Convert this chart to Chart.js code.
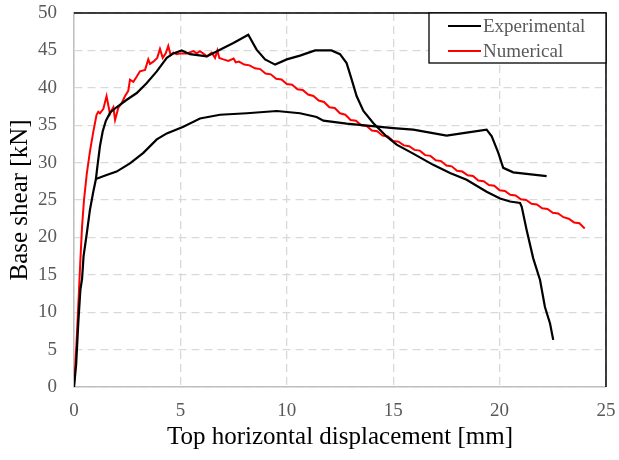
<!DOCTYPE html>
<html>
<head>
<meta charset="utf-8">
<script src="https://cdn.jsdelivr.net/npm/chart.js@4.4.1/dist/chart.umd.min.js"></script>
<style>
  html, body { margin: 0; padding: 0; background: #fff; }
  canvas { display: block; }
</style>
</head>
<body>
<canvas id="myChart" width="619" height="460"></canvas>
<script>
const serif = "'Liberation Serif', 'Times New Roman', serif";

// test 1 - upper branch: [displacement mm, base shear kN]
const expUpper = [
  [0, 0], [0.1, 3], [0.2, 8.5], [0.3, 13], [0.38, 14.5], [0.45, 17.5], [0.6, 20.5],
  [0.75, 23.7], [0.9, 26], [1.03, 27.8], [1.1, 29.5], [1.22, 32.2], [1.35, 34.2],
  [1.5, 35.6], [1.7, 36.7], [2.0, 37.4], [2.48, 38.4], [2.95, 39.3], [3.41, 40.6],
  [3.89, 42.2], [4.36, 44.0], [4.67, 44.6], [5.06, 45.0], [5.45, 44.5], [6.24, 44.2],
  [6.86, 45.1], [7.49, 46.0], [8.19, 47.1], [8.58, 45.1], [8.98, 43.8], [9.45, 43.1],
  [10.0, 43.8], [10.62, 44.3], [11.33, 45.0], [12.1, 45.0], [12.5, 44.5], [12.81, 43.3],
  [13.05, 41.1], [13.28, 38.9], [13.6, 36.9], [14.06, 35.3], [14.69, 33.5], [15.16, 32.4],
  [15.94, 31.2], [16.88, 29.7], [17.67, 28.6], [18.45, 27.7], [19.39, 26.1], [20.02, 25.2],
  [20.49, 24.8], [20.96, 24.6], [21.04, 24.1], [21.27, 21.0], [21.58, 17.2], [21.9, 14.3],
  [22.13, 10.7], [22.37, 8.5], [22.52, 6.3]
];

// test 2 - lower branch, leaves the common loading path at ~1 mm
const expLower = [
  [1.03, 27.8], [1.5, 28.3], [2.0, 28.8], [2.63, 29.9], [3.26, 31.3], [3.89, 33.1],
  [4.36, 33.9], [5.14, 34.8], [5.92, 35.9], [6.86, 36.4], [8.12, 36.6], [9.53, 36.9],
  [10.62, 36.6], [11.4, 36.1], [11.72, 35.6], [12.81, 35.2], [13.91, 34.9], [15.0, 34.6],
  [15.94, 34.4], [16.73, 34.0], [17.51, 33.6], [18.45, 34.0], [19.39, 34.4], [19.63, 33.5],
  [19.94, 31.3], [20.17, 29.3], [20.64, 28.7], [21.58, 28.4], [22.21, 28.2]
];

// FE model response
const numerical = [
  [0, 0], [0.12, 6], [0.22, 12], [0.3, 17], [0.38, 21.5], [0.47, 25], [0.6, 28.5],
  [0.75, 31.5], [0.9, 34], [1.06, 36.4], [1.14, 36.8], [1.22, 36.6], [1.38, 37.2],
  [1.53, 38.9], [1.69, 36.5], [1.77, 37.0], [1.85, 37.4], [1.93, 35.7], [2.08, 37.3],
  [2.25, 38.0], [2.4, 38.9], [2.55, 39.6], [2.63, 41.1], [2.79, 40.8], [2.95, 41.5],
  [3.1, 42.2], [3.34, 42.4], [3.49, 43.8], [3.57, 43.2], [3.73, 43.5], [3.91, 44.0],
  [4.04, 45.2], [4.17, 44.0], [4.31, 44.6], [4.43, 45.6], [4.54, 44.4], [4.67, 44.7],
  [4.83, 44.5], [5.0, 44.6], [5.3, 44.6], [5.61, 44.9], [5.77, 44.6], [5.92, 44.9],
  [6.16, 44.4], [6.24, 44.2], [6.47, 44.7], [6.63, 44.0], [6.74, 45.0], [6.83, 44.0],
  [7.02, 43.8], [7.25, 43.6], [7.5, 43.9], [7.6, 43.4], [7.75, 43.5], [8.0, 43.1],
  [8.25, 43.0], [8.5, 42.6], [8.75, 42.5], [9.0, 41.9], [9.25, 41.8], [9.5, 41.2],
  [9.75, 41.1], [10.0, 40.5], [10.25, 40.4], [10.5, 39.8], [10.75, 39.7], [11.0, 39.1],
  [11.25, 38.9], [11.5, 38.3], [11.75, 38.1], [12.0, 37.4], [12.25, 37.3], [12.5, 36.6],
  [12.75, 36.4], [13.0, 35.7], [13.25, 35.6], [13.5, 35.0], [13.75, 34.9], [14.0, 34.3],
  [14.25, 34.2], [14.5, 33.6], [14.75, 33.5], [15.0, 32.9], [15.25, 32.8], [15.5, 32.3],
  [15.75, 32.2], [16.0, 31.7], [16.25, 31.6], [16.5, 31.0], [16.75, 30.9], [17.0, 30.3],
  [17.25, 30.2], [17.5, 29.6], [17.75, 29.5], [18.0, 28.9], [18.25, 28.8], [18.5, 28.3],
  [18.75, 28.2], [19.0, 27.6], [19.25, 27.5], [19.5, 27.0], [19.75, 26.9], [20.0, 26.3],
  [20.25, 26.2], [20.5, 25.7], [20.75, 25.6], [21.0, 25.1], [21.25, 25.0], [21.5, 24.5],
  [21.75, 24.4], [22.0, 23.9], [22.25, 23.8], [22.5, 23.3], [22.75, 23.2], [23.0, 22.7],
  [23.25, 22.5], [23.5, 22.0], [23.75, 21.9], [24.0, 21.2]
];

const xTicks = [0, 5, 10, 15, 20, 25];
const yTicks = [0, 5, 10, 15, 20, 25, 30, 35, 40, 45, 50];

const toXY = (arr) => arr.map(p => ({ x: p[0], y: p[1] }));

// legend drawn inside the plot, top right, with a frame
const boxLegend = {
  id: 'boxLegend',
  afterDraw(chart) {
    const { ctx, chartArea } = chart;
    const items = chart.data.datasets.filter(d => !d.noLegend);
    const w = 177, h = 50;
    const x0 = chartArea.right - w, y0 = chartArea.top;
    ctx.save();
    ctx.fillStyle = '#fff';
    ctx.fillRect(x0, y0, w, h);
    ctx.strokeStyle = '#000';
    ctx.lineWidth = 1.3;
    ctx.strokeRect(x0, y0, w, h);
    ctx.font = '19px ' + serif;
    ctx.textBaseline = 'middle';
    ctx.fillStyle = '#595959';
    items.forEach((d, i) => {
      const y = y0 + 13 + i * 25;
      ctx.beginPath();
      ctx.strokeStyle = d.borderColor;
      ctx.lineWidth = 2;
      ctx.moveTo(x0 + 19, y);
      ctx.lineTo(x0 + 52, y);
      ctx.stroke();
      ctx.fillText(d.label, x0 + 54, y + 1);
    });
    ctx.restore();
  }
};

// dark frame on the top and right sides of the plot area
const frameLines = {
  id: 'frameLines',
  beforeDatasetsDraw(chart) {
    const { ctx, chartArea: a } = chart;
    ctx.save();
    ctx.strokeStyle = '#000';
    ctx.lineWidth = 1.5;
    ctx.beginPath();
    ctx.moveTo(a.left, a.top);
    ctx.lineTo(a.right, a.top);
    ctx.lineTo(a.right, a.bottom);
    ctx.stroke();
    ctx.restore();
  }
};

const ctx = document.querySelector('#myChart').getContext('2d');

const myChart = new Chart(ctx, {
  type: 'line',
  data: {
    datasets: [
      { label: 'Experimental', data: toXY(expUpper), borderColor: '#000', borderWidth: 2.2 },
      { label: 'Experimental', data: toXY(expLower), borderColor: '#000', borderWidth: 2.2, noLegend: true },
      { label: 'Numerical', data: toXY(numerical), borderColor: '#ff0000', borderWidth: 2 }
    ]
  },
  options: {
    responsive: false,
    animation: false,
    parsing: false,
    elements: {
      point: { radius: 0 },
      line: { tension: 0, fill: false }
    },
    layout: { padding: { top: 13, right: 13, left: 0, bottom: 0 } },
    plugins: {
      legend: { display: false },
      tooltip: { enabled: false }
    },
    scales: {
      x: {
        type: 'linear',
        min: 0,
        max: 25,
        afterBuildTicks: (scale) => { scale.ticks = xTicks.map(v => ({ value: v })); },
        afterFit: (scale) => {
          scale.height = 73;
          scale.paddingLeft = 0;
          scale.paddingRight = 0;
        },
        grid: { color: '#d9d9d9', lineWidth: 1.3, drawTicks: false },
        border: { color: '#bfbfbf', width: 1.5, dash: [8, 5] },
        ticks: { color: '#595959', font: { family: serif, size: 19 }, padding: 13, maxRotation: 0 },
        title: {
          display: true,
          text: 'Top horizontal displacement [mm]',
          color: '#000',
          font: { family: serif, size: 25 },
          padding: { top: 0, bottom: 8 }
        }
      },
      y: {
        type: 'linear',
        min: 0,
        max: 50,
        afterBuildTicks: (scale) => { scale.ticks = yTicks.map(v => ({ value: v })); },
        afterFit: (scale) => {
          scale.width = 74;
          scale.paddingTop = 0;
          scale.paddingBottom = 0;
        },
        grid: { color: '#d9d9d9', lineWidth: 1.3, drawTicks: false },
        border: { color: '#bfbfbf', width: 1.5, dash: [8, 5] },
        ticks: { color: '#595959', font: { family: serif, size: 19 }, padding: 17 },
        title: {
          display: true,
          text: 'Base shear [kN]',
          color: '#000',
          font: { family: serif, size: 25 },
          padding: { top: 5, bottom: 0 }
        }
      }
    }
  },
  plugins: [frameLines, boxLegend]
});
</script>
</body>
</html>
